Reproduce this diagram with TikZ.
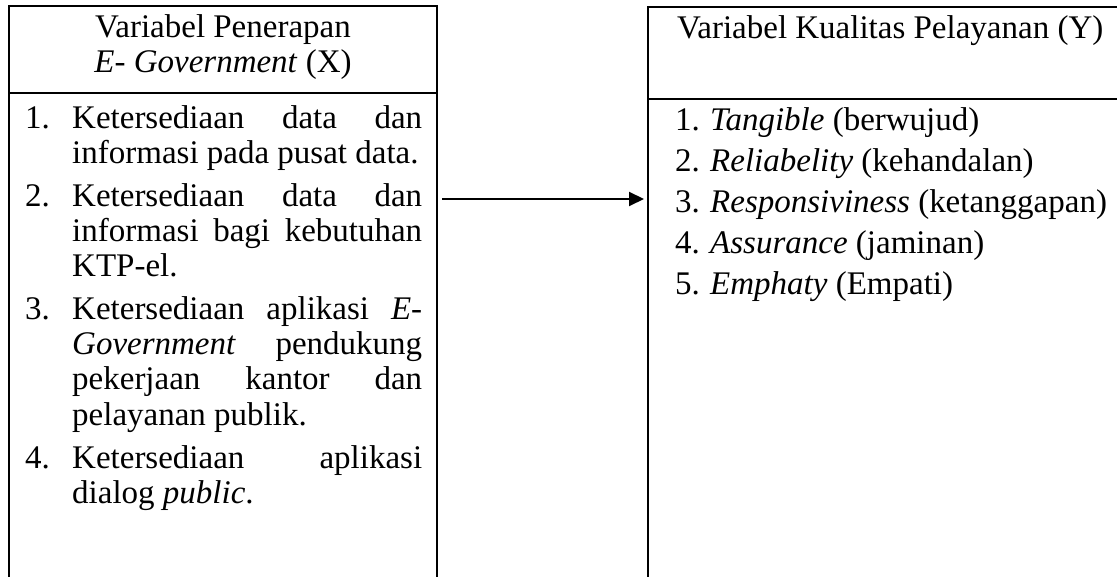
\documentclass[tikz,border=0pt]{standalone}
\usepackage{fontspec}
\setmainfont{Liberation Serif}
\usetikzlibrary{arrows.meta}
\newcommand{\jline}[1]{\hbox to 350pt{#1}}
\begin{document}
\begin{tikzpicture}[x=1pt,y=-1pt,
  frame/.style={line width=2pt, line cap=rect},
  txt/.style={anchor=base west, inner sep=0pt, font=\fontsize{33}{36}\selectfont},
  ctxt/.style={anchor=base, inner sep=0pt, font=\fontsize{33}{36}\selectfont},
  link/.style={line width=2pt, -{Triangle[length=15pt,width=14pt]}}]
\useasboundingbox (0,0) rectangle (1117,577);
\fill[white] (0,0) rectangle (1117,577);
% left box
\draw[frame] (9,577) -- (9,6) -- (437,6) -- (437,577);
\draw[frame] (9,93) -- (437,93);
% right box
\draw[frame] (648,577) -- (648,7) -- (1120,7);
\draw[frame] (648,99) -- (1120,99);
% headers
\node[ctxt] (hx1) at (223,38) {Variabel Penerapan};
\node[ctxt] (hx2) at (223,73) {\textit{E- Government} (X)};
\node[txt] (hy) at (677,39) {Variabel Kualitas Pelayanan (Y)};
% left list
\node[txt] (n1) at (25,129) {1.};
\node[txt] (l1) at (72,129) {\jline{Ketersediaan\hfill data\hfill dan}};
\node[txt] (l2) at (72,164) {informasi pada pusat data.};
\node[txt] (n2) at (25,207) {2.};
\node[txt] (l3) at (72,207) {\jline{Ketersediaan\hfill data\hfill dan}};
\node[txt] (l4) at (72,242) {\jline{informasi\hfill bagi\hfill kebutuhan}};
\node[txt] (l5) at (72,277) {KTP-el.};
\node[txt] (n3) at (25,320) {3.};
\node[txt] (l6) at (72,320) {\jline{Ketersediaan\hfill aplikasi\hfill \textit{E-}}};
\node[txt] (l7) at (72,355) {\jline{\textit{Government}\hfill pendukung}};
\node[txt] (l8) at (72,390) {\jline{pekerjaan\hfill kantor\hfill dan}};
\node[txt] (l9) at (72,425) {pelayanan publik.};
\node[txt] (n4) at (25,468) {4.};
\node[txt] (l10) at (72,468) {\jline{Ketersediaan\hfill aplikasi}};
\node[txt] (l11) at (72,503) {dialog \textit{public}.};
% right list
\node[txt] (m1) at (675,131) {1.};
\node[txt] (r1) at (710,131) {\textit{Tangible} (berwujud)};
\node[txt] (m2) at (675,172) {2.};
\node[txt] (r2) at (710,172) {\textit{Reliabelity} (kehandalan)};
\node[txt] (m3) at (675,213) {3.};
\node[txt] (r3) at (710,213) {\textit{Responsiviness} (ketanggapan)};
\node[txt] (m4) at (675,254) {4.};
\node[txt] (r4) at (710,254) {\textit{Assurance} (jaminan)};
\node[txt] (m5) at (675,295) {5.};
\node[txt] (r5) at (710,295) {\textit{Emphaty} (Empati)};
% arrow
\coordinate (as) at (442,199);
\coordinate (ae) at (644,199);
\draw[link] (as) -- (ae);
\end{tikzpicture}
\end{document}
